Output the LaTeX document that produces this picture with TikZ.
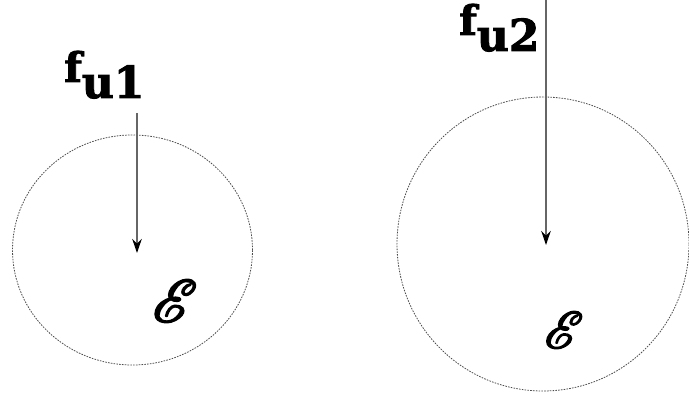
\documentclass[tikz,border=0pt]{standalone}
\usepackage{fontspec}
\usepackage{mathrsfs}
\usepackage{graphicx}
\newfontfamily\labfont{DejaVu Serif Bold}
\usetikzlibrary{arrows.meta}
\tikzset{
  bubble/.style={draw=black!70, line width=0.8pt, dash pattern=on 1.6pt off 1.2pt},
  force/.style={draw=black!60, line width=1.8pt, -{Stealth[length=14pt,width=9.5pt,inset=4.5pt,black]}},
  flabel/.style={inner sep=0pt, anchor=base west},
  elabel/.style={inner sep=0pt}
}
\newcommand{\heavy}[2]{\special{pdf:literal direct 2 Tr #1 w 0 G}#2\special{pdf:literal direct 0 Tr}}
\newcommand{\flab}[1]{{\labfont\fontsize{41}{41}\selectfont \heavy{0.9}{f\raisebox{-16pt}{\fontsize{44}{44}\selectfont u#1}}}}
\newcommand{\thickE}{\fontsize{24.88}{26}\selectfont\heavy{0.75}{$\mathscr{E}$}}
\begin{document}
\begin{tikzpicture}[x=1pt,y=1pt]
\useasboundingbox (0,0) rectangle (689,-395);
% left
\draw[bubble] (132.5,-250) ellipse [x radius=120, y radius=115];
\coordinate (a1s) at (137,-113);
\coordinate (a1e) at (137,-253);
\draw[force] (a1s) -- (a1e);
\node[flabel] (f1) at (64,-82) {\flab{1}};
\node[elabel] (e1) at (175,-301) {\resizebox{45pt}{!}{\thickE}};
% right
\draw[bubble] (543,-244) ellipse [x radius=146, y radius=147];
\coordinate (a2s) at (546,0);
\coordinate (a2e) at (546,-245);
\draw[force] (a2s) -- (a2e);
\node[flabel] (f2) at (459,-35) {\flab{2}};
\node[elabel] (e2) at (564,-330) {\resizebox{39pt}{!}{\thickE}};
\end{tikzpicture}
\end{document}
